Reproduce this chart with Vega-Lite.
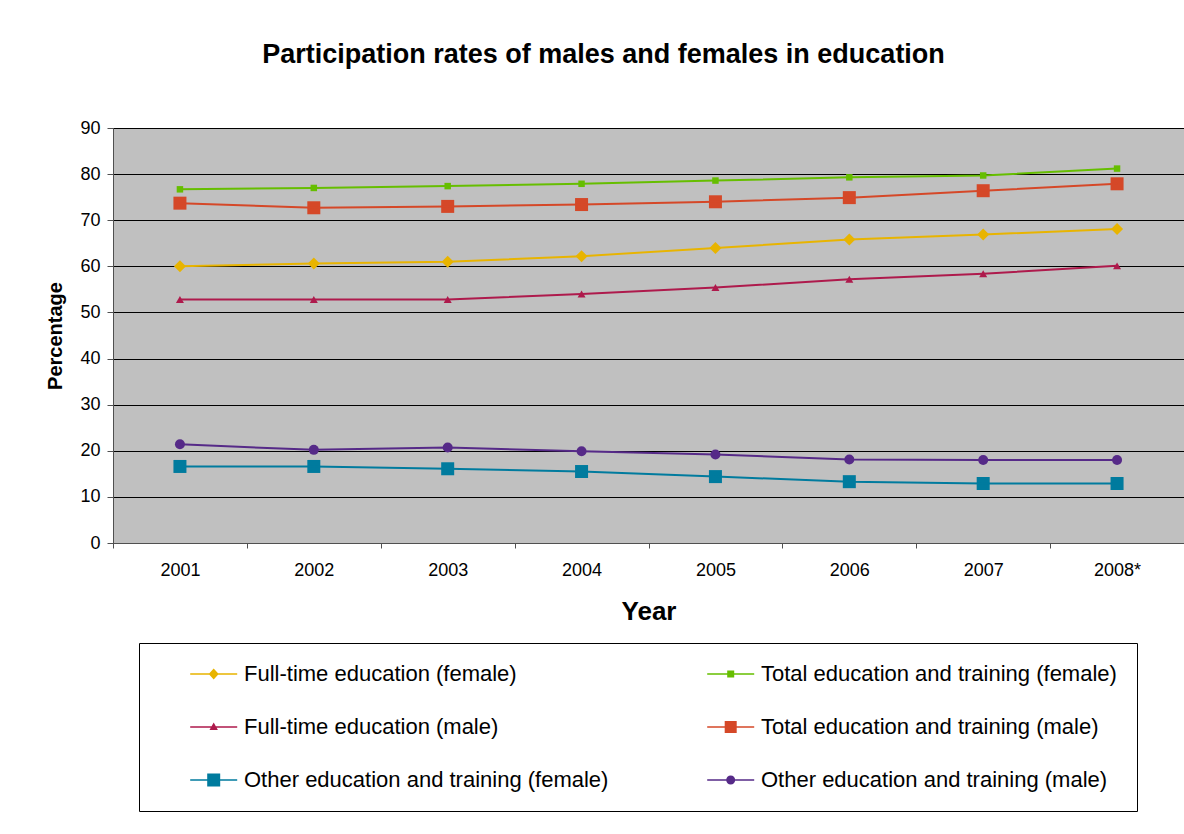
{
  "$schema": "https://vega.github.io/schema/vega-lite/v6.json",
  "width": 1071,
  "height": 415,
  "autosize": {"type": "none"},
  "padding": {"left": 113, "top": 128, "right": 0, "bottom": 291},
  "background": "white",
  "config": {
    "font": "Liberation Sans",
    "view": {"fill": "#C0C0C0", "stroke": "#808080", "strokeWidth": 1},
    "axis": {"labelColor": "black", "titleColor": "black", "domainColor": "#505050", "tickColor": "#505050"}
  },
  "title": {
    "text": "Participation rates of males and females in education",
    "font": "Liberation Sans",
    "fontSize": 27,
    "fontWeight": "bold",
    "color": "black",
    "anchor": "middle",
    "frame": "group",
    "dx": -45,
    "offset": 50
  },
  "data": {
    "values": [
      {"year": "2001", "series": "Full-time education (female)", "value": 60.0},
      {"year": "2002", "series": "Full-time education (female)", "value": 60.6},
      {"year": "2003", "series": "Full-time education (female)", "value": 61.0},
      {"year": "2004", "series": "Full-time education (female)", "value": 62.2},
      {"year": "2005", "series": "Full-time education (female)", "value": 64.0},
      {"year": "2006", "series": "Full-time education (female)", "value": 65.8},
      {"year": "2007", "series": "Full-time education (female)", "value": 66.9},
      {"year": "2008*", "series": "Full-time education (female)", "value": 68.1},
      {"year": "2001", "series": "Total education and training (female)", "value": 76.7},
      {"year": "2002", "series": "Total education and training (female)", "value": 77.0},
      {"year": "2003", "series": "Total education and training (female)", "value": 77.4},
      {"year": "2004", "series": "Total education and training (female)", "value": 77.9},
      {"year": "2005", "series": "Total education and training (female)", "value": 78.6},
      {"year": "2006", "series": "Total education and training (female)", "value": 79.3},
      {"year": "2007", "series": "Total education and training (female)", "value": 79.7},
      {"year": "2008*", "series": "Total education and training (female)", "value": 81.2},
      {"year": "2001", "series": "Full-time education (male)", "value": 52.8},
      {"year": "2002", "series": "Full-time education (male)", "value": 52.8},
      {"year": "2003", "series": "Full-time education (male)", "value": 52.8},
      {"year": "2004", "series": "Full-time education (male)", "value": 54.0},
      {"year": "2005", "series": "Full-time education (male)", "value": 55.4},
      {"year": "2006", "series": "Full-time education (male)", "value": 57.2},
      {"year": "2007", "series": "Full-time education (male)", "value": 58.4},
      {"year": "2008*", "series": "Full-time education (male)", "value": 60.1},
      {"year": "2001", "series": "Total education and training (male)", "value": 73.7},
      {"year": "2002", "series": "Total education and training (male)", "value": 72.7},
      {"year": "2003", "series": "Total education and training (male)", "value": 73.0},
      {"year": "2004", "series": "Total education and training (male)", "value": 73.4},
      {"year": "2005", "series": "Total education and training (male)", "value": 74.0},
      {"year": "2006", "series": "Total education and training (male)", "value": 74.9},
      {"year": "2007", "series": "Total education and training (male)", "value": 76.4},
      {"year": "2008*", "series": "Total education and training (male)", "value": 77.9},
      {"year": "2001", "series": "Other education and training (female)", "value": 16.6},
      {"year": "2002", "series": "Other education and training (female)", "value": 16.6},
      {"year": "2003", "series": "Other education and training (female)", "value": 16.1},
      {"year": "2004", "series": "Other education and training (female)", "value": 15.5},
      {"year": "2005", "series": "Other education and training (female)", "value": 14.4},
      {"year": "2006", "series": "Other education and training (female)", "value": 13.3},
      {"year": "2007", "series": "Other education and training (female)", "value": 12.9},
      {"year": "2008*", "series": "Other education and training (female)", "value": 12.9},
      {"year": "2001", "series": "Other education and training (male)", "value": 21.4},
      {"year": "2002", "series": "Other education and training (male)", "value": 20.2},
      {"year": "2003", "series": "Other education and training (male)", "value": 20.7},
      {"year": "2004", "series": "Other education and training (male)", "value": 19.9},
      {"year": "2005", "series": "Other education and training (male)", "value": 19.2},
      {"year": "2006", "series": "Other education and training (male)", "value": 18.1},
      {"year": "2007", "series": "Other education and training (male)", "value": 18.0},
      {"year": "2008*", "series": "Other education and training (male)", "value": 18.0}
    ]
  },
  "encoding": {
    "x": {
      "field": "year",
      "type": "ordinal",
      "sort": ["2001", "2002", "2003", "2004", "2005", "2006", "2007", "2008*"],
      "bandPosition": 0.5,
      "scale": {"type": "band", "paddingInner": 0, "paddingOuter": 0},
      "axis": {
        "title": "Year",
        "titleFontSize": 26,
        "titleFontWeight": "bold",
        "titlePadding": 19,
        "labelAngle": 0,
        "labelFontSize": 18,
        "labelPadding": 13,
        "tickBand": "extent",
        "tickSize": 5,
        "grid": false
      }
    },
    "y": {
      "field": "value",
      "type": "quantitative",
      "scale": {"domain": [0, 90], "nice": false},
      "axis": {
        "title": "Percentage",
        "titleFontSize": 20,
        "titleFontWeight": "bold",
        "titlePadding": 14,
        "values": [0, 10, 20, 30, 40, 50, 60, 70, 80, 90],
        "labelFontSize": 18,
        "labelPadding": 7,
        "tickSize": 6,
        "grid": true,
        "gridColor": "black",
        "gridWidth": 1,
        "gridOpacity": 1
      }
    }
  },
  "layer": [
    {
      "mark": {"type": "point", "filled": true, "opacity": 1, "strokeWidth": 0},
      "encoding": {
        "shape": {
          "condition": [
            {"test": "datum.series === 'Full-time education (female)'", "value": "diamond"},
            {"test": "datum.series === 'Full-time education (male)'", "value": "triangle-up"},
            {"test": "datum.series === 'Other education and training (male)'", "value": "circle"}
          ],
          "value": "square"
        },
        "size": {
          "condition": [
            {"test": "datum.series === 'Full-time education (female)'", "value": 144},
            {"test": "datum.series === 'Total education and training (female)'", "value": 42},
            {"test": "datum.series === 'Full-time education (male)'", "value": 64},
            {"test": "datum.series === 'Other education and training (male)'", "value": 100}
          ],
          "value": 169
        },
        "color": {
          "field": "series",
          "type": "nominal",
          "scale": {
            "domain": [
              "Full-time education (female)",
              "Full-time education (male)",
              "Other education and training (female)",
              "Total education and training (female)",
              "Total education and training (male)",
              "Other education and training (male)"
            ],
            "range": ["#E8B400", "#AE1A4C", "#007B9E", "#66BE00", "#D54828", "#562A88"]
          },
          "legend": {
            "title": null,
            "orient": "none",
            "legendX": 26,
            "legendY": 515,
            "columns": 2,
            "padding": 20,
            "strokeColor": "black",
            "fillColor": "white",
            "rowPadding": 31,
            "columnPadding": 67,
            "labelFontSize": 22,
            "labelColor": "black",
            "labelLimit": 0,
            "labelOffset": 63,
            "symbolSize": 400,
            "symbolStrokeWidth": 0,
            "symbolOpacity": 1
          }
        }
      }
    },
    {
      "mark": {"type": "line", "strokeWidth": 2},
      "encoding": {
        "color": {
          "field": "series",
          "type": "nominal",
          "scale": {
            "domain": [
              "Full-time education (female)",
              "Full-time education (male)",
              "Other education and training (female)",
              "Total education and training (female)",
              "Total education and training (male)",
              "Other education and training (male)"
            ],
            "range": ["#E8B400", "#AE1A4C", "#007B9E", "#66BE00", "#D54828", "#562A88"]
          }
        }
      }
    },
    {
      "mark": {"type": "point", "filled": true, "opacity": 1, "strokeWidth": 0},
      "encoding": {
        "size": {"value": 0},
        "shape": {
          "field": "series",
          "type": "nominal",
          "scale": {
            "domain": [
              "Full-time education (female)",
              "Full-time education (male)",
              "Other education and training (female)",
              "Total education and training (female)",
              "Total education and training (male)",
              "Other education and training (male)"
            ],
            "range": [
              "M2.02,-0.075H6.72V0.075H2.02Z M3.87,0L4.37,-0.55L4.87,0L4.37,0.55Z",
              "M2.02,-0.075H6.72V0.075H2.02Z M4.37,-0.45L4.79,0.3L3.95,0.3Z",
              "M2.02,-0.075H6.72V0.075H2.02Z M3.72,-0.65H5.02V0.65H3.72Z",
              "M2.02,-0.075H6.72V0.075H2.02Z M4.02,-0.35H4.72V0.35H4.02Z",
              "M2.02,-0.075H6.72V0.075H2.02Z M3.77,-0.6H4.97V0.6H3.77Z",
              "M2.02,-0.075H6.72V0.075H2.02Z M3.92,0A0.45,0.45 0 1,1 4.82,0A0.45,0.45 0 1,1 3.92,0Z"
            ]
          }
        }
      }
    }
  ]
}
